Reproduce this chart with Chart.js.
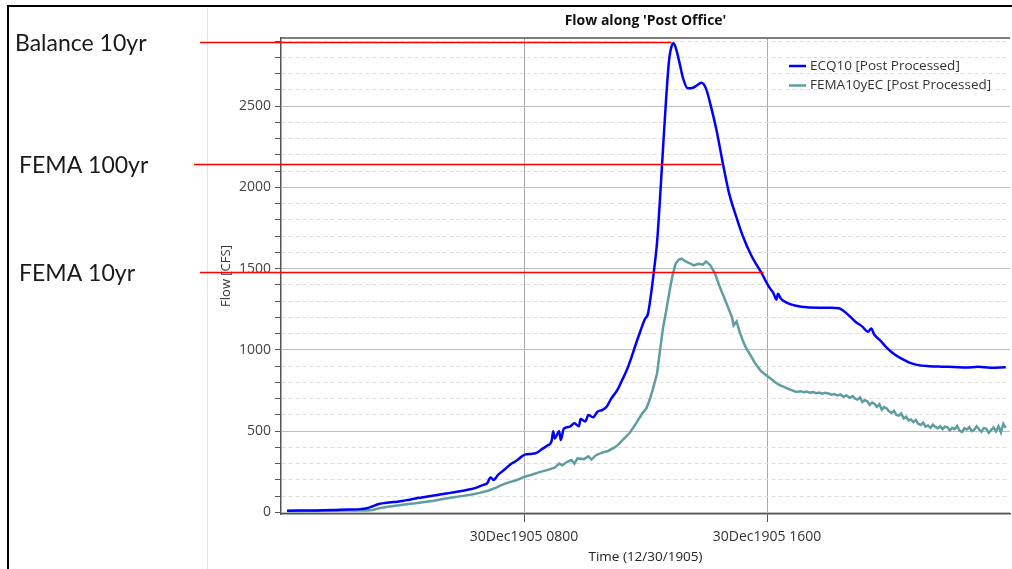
<!DOCTYPE html>
<html lang="en">
<head>
<meta charset="UTF-8">
<title>Flow along 'Post Office'</title>
<script src="https://cdn.jsdelivr.net/npm/chart.js"></script>
<style>
  html, body { margin: 0; padding: 0; background: #fff; }
  #wrap { position: relative; width: 1012px; height: 569px; }
</style>
</head>
<body>
<div id="wrap"><canvas id="flowChart" width="1012" height="569"></canvas></div>
<script>
// hours after 30Dec1905 0000
const ecqHours = [0.2, 0.6, 1.01, 1.41, 1.81, 2.21, 2.62, 2.82, 3.02, 3.22, 3.42, 3.62, 3.83, 4.03, 4.23, 4.43, 4.63, 4.83, 5.03, 5.23,
  5.44, 5.64, 5.84, 6.04, 6.24, 6.44, 6.64, 6.79, 6.9, 7.0, 7.15, 7.35, 7.55, 7.75, 7.9, 8.05, 8.25, 8.41, 8.56, 8.76,
  8.91, 8.96, 9.01, 9.16, 9.21, 9.31, 9.51, 9.66, 9.81, 9.86, 10.02, 10.12, 10.27, 10.42, 10.57, 10.72, 10.87, 11.07, 11.22, 11.37,
  11.53, 11.68, 11.83, 11.98, 12.08, 12.18, 12.28, 12.38, 12.48, 12.58, 12.68, 12.78, 12.88, 12.93, 13.04, 13.14, 13.24, 13.39, 13.54, 13.69,
  13.84, 13.99, 14.14, 14.34, 14.55, 14.75, 15.0, 15.2, 15.5, 15.8, 16.06, 16.21, 16.31, 16.36, 16.46, 16.66, 16.96, 17.31, 17.72, 18.12,
  18.37, 18.62, 18.92, 19.13, 19.33, 19.43, 19.53, 19.73, 19.93, 20.18, 20.43, 20.69, 20.94, 21.34, 21.74, 22.15, 22.55, 22.95, 23.35, 23.86];
const ecqFlow = [10, 11, 12, 13, 15, 17, 20, 25, 38, 52, 58, 62, 66, 72, 78, 86, 92, 98, 104, 110,
  116, 122, 128, 135, 142, 152, 168, 180, 215, 200, 232, 262, 295, 318, 340, 357, 360, 366, 385, 410,
  440, 500, 455, 500, 445, 515, 528, 548, 530, 575, 560, 600, 585, 620, 630, 650, 700, 752, 810, 870,
  950, 1035, 1115, 1190, 1222, 1340, 1490, 1660, 1940, 2250, 2550, 2790, 2880, 2888, 2830, 2750, 2670, 2610, 2612, 2628,
  2645, 2610, 2510, 2350, 2145, 1965, 1813, 1703, 1575, 1480, 1390, 1350, 1310, 1345, 1315, 1290, 1272, 1262, 1260, 1260,
  1256, 1225, 1172, 1145, 1112, 1132, 1095, 1058, 1016, 975, 946, 922, 908, 900, 897, 895, 892, 896, 891, 893];

const femaHours = [0.2, 0.81, 1.51, 2.21, 2.82, 3.02, 3.22, 3.52, 3.83, 4.13, 4.43, 4.73, 5.03, 5.33, 5.64, 5.94, 6.24, 6.54, 6.84, 7.05,
  7.25, 7.5, 7.75, 8.0, 8.25, 8.51, 8.76, 9.01, 9.16, 9.26, 9.41, 9.56, 9.66, 9.76, 9.97, 10.12, 10.22, 10.37, 10.57, 10.77,
  10.97, 11.12, 11.27, 11.48, 11.68, 11.88, 12.03, 12.13, 12.23, 12.38, 12.48, 12.58, 12.68, 12.78, 12.88, 12.99, 13.09, 13.19, 13.29, 13.44,
  13.59, 13.74, 13.89, 13.99, 14.14, 14.29, 14.44, 14.54, 14.7, 14.85, 14.9, 15.0, 15.1, 15.2, 15.3, 15.45, 15.6, 15.8,
  16.06, 16.2, 16.31, 16.45, 16.56, 16.7, 16.81, 16.92, 17.01, 17.11, 17.21, 17.31, 17.41, 17.52, 17.62, 17.72, 17.82, 17.92, 18.02, 18.12, 18.22, 18.32, 18.42,
  18.52, 18.62, 18.72, 18.82, 18.9, 18.98, 19.06, 19.14, 19.22, 19.3,
  19.38, 19.46, 19.54, 19.62, 19.7, 19.78, 19.86, 19.94, 20.02, 20.1,
  20.18, 20.26, 20.34, 20.42, 20.5, 20.58, 20.66, 20.74, 20.82, 20.9,
  20.98, 21.06, 21.14, 21.22, 21.3, 21.38, 21.46, 21.54, 21.62, 21.7,
  21.78, 21.86, 21.94, 22.02, 22.1, 22.18, 22.26, 22.34, 22.42, 22.5,
  22.58, 22.66, 22.74, 22.82, 22.9, 22.98, 23.06, 23.14, 23.22, 23.3,
  23.38, 23.46, 23.54, 23.62, 23.7, 23.78, 23.86];
const femaFlow = [8, 9, 10, 11, 12, 15, 25, 35, 42, 50, 56, 64, 72, 82, 92, 100, 108, 120, 135, 150,
  168, 185, 198, 218, 232, 248, 260, 275, 300, 290, 310, 322, 300, 332, 328, 345, 325, 352, 368, 378,
  398, 420, 450, 490, 545, 605, 640, 690, 750, 855, 1000, 1140, 1240, 1350, 1450, 1530, 1555, 1562, 1548, 1535,
  1520, 1530, 1525, 1545, 1520, 1470, 1390, 1345, 1270, 1200, 1150, 1175, 1110, 1060, 1015, 970, 920, 870,
  832, 812, 795, 780, 772, 760, 752, 744, 742, 746, 740, 744, 736, 740, 734, 737, 730, 736, 732, 724, 728, 720, 726,
  712, 720, 705, 716, 700, 694, 708, 680, 690, 684,
  662, 676, 668, 650, 666, 632, 648, 640, 622, 612,
  625, 600, 596, 610, 578, 588, 566, 572, 556, 568,
  545, 538, 552, 528, 535, 520, 540, 526, 518, 530,
  512, 528, 524, 505, 520, 512, 532, 502, 495, 518,
  510, 525, 500, 508, 530, 512, 496, 520, 515, 490,
  508, 522, 498, 530, 492, 545, 520];

const seriesNames = ['ECQ10 [Post Processed]', 'FEMA10yEC [Post Processed]'];
const xTickHours = [8, 16];
const xTickLabels = ['30Dec1905 0800', '30Dec1905 1600'];
const yLabelValues = [0, 500, 1000, 1500, 2000, 2500];
const yMinorValues = [];
for (let v = 0; v <= 2900; v += 100) yMinorValues.push(v);

// reference levels drawn in red
const refNames = ['Balance 10yr', 'FEMA 100yr', 'FEMA 10yr'];
const refFlows = [2895, 2144, 1479];
const refEndHours = [12.86, 14.51, 15.89];

const toPoints = (xs, ys) => xs.map((h, i) => ({ x: h, y: ys[i] }));

const decorPlugin = {
  id: 'decor',
  beforeDraw(chart) {
    const ctx = chart.ctx;
    ctx.save();
    ctx.fillStyle = '#fff';
    ctx.fillRect(0, 0, chart.width, chart.height);
    // panel separator
    ctx.strokeStyle = '#e4e4e4';
    ctx.lineWidth = 1;
    ctx.beginPath();
    ctx.moveTo(207.5, 8);
    ctx.lineTo(207.5, chart.height);
    ctx.stroke();
    ctx.restore();
  },
  afterDraw(chart) {
    const { ctx, chartArea: area, scales } = chart;
    ctx.save();

    // top edge of the plot box
    ctx.strokeStyle = '#555';
    ctx.lineWidth = 1.5;
    ctx.beginPath();
    ctx.moveTo(area.left, area.top);
    ctx.lineTo(area.right, area.top);
    ctx.stroke();

    // title
    ctx.fillStyle = '#111';
    ctx.font = 'bold 14px "Open Sans", sans-serif';
    ctx.textAlign = 'center';
    ctx.textBaseline = 'middle';
    ctx.fillText("Flow along 'Post Office'", (area.left + area.right) / 2, 21);

    // legend inside the plot
    ctx.textAlign = 'left';
    ctx.font = '13.5px "Open Sans", sans-serif';
    chart.data.datasets.forEach((ds, i) => {
      const y = 66 + i * 19.5;
      ctx.strokeStyle = ds.borderColor;
      ctx.lineWidth = 2.5;
      ctx.beginPath();
      ctx.moveTo(789, y);
      ctx.lineTo(806, y);
      ctx.stroke();
      ctx.fillStyle = '#333';
      ctx.fillText(ds.label, 810, y);
    });

    // reference lines and their names
    const starts = [200, 194, 200];
    const textX = [15, 19, 19];
    ctx.font = '23px Lato, "Open Sans", sans-serif';
    refFlows.forEach((f, i) => {
      const y = Math.round(scales.y.getPixelForValue(f)) + 0.5;
      const xEnd = scales.x.getPixelForValue(refEndHours[i]);
      ctx.strokeStyle = '#f00';
      ctx.lineWidth = 1.5;
      ctx.beginPath();
      ctx.moveTo(starts[i], y);
      ctx.lineTo(xEnd, y);
      ctx.stroke();
      ctx.fillStyle = '#1a1a1a';
      ctx.textBaseline = 'middle';
      ctx.fillText(refNames[i], textX[i], y + 1);
    });

    // screenshot frame
    ctx.strokeStyle = '#000';
    ctx.lineWidth = 2;
    ctx.beginPath();
    ctx.moveTo(8, chart.height);
    ctx.lineTo(8, 6);
    ctx.lineTo(chart.width, 6);
    ctx.stroke();
    ctx.restore();
  }
};

new Chart(document.getElementById('flowChart'), {
  type: 'line',
  data: {
    datasets: [
      {
        label: seriesNames[0],
        data: toPoints(ecqHours, ecqFlow),
        borderColor: '#0000ff',
        borderWidth: 2.5,
        pointRadius: 0,
        cubicInterpolationMode: 'monotone'
      },
      {
        label: seriesNames[1],
        data: toPoints(femaHours, femaFlow),
        borderColor: '#5f9ea0',
        borderWidth: 2.5,
        pointRadius: 0,
        tension: 0
      }
    ]
  },
  options: {
    responsive: false,
    animation: false,
    devicePixelRatio: 1,
    layout: { padding: { left: 207, right: 2, top: 38, bottom: 0 } },
    plugins: {
      legend: { display: false },
      title: { display: false },
      tooltip: { enabled: false }
    },
    scales: {
      x: {
        type: 'linear',
        min: 0,
        max: 24,
        afterBuildTicks: s => { s.ticks = xTickHours.map(v => ({ value: v })); },
        afterFit: s => { s.height = 55; },
        ticks: {
          autoSkip: false,
          maxRotation: 0,
          padding: 7,
          color: '#333',
          font: { family: '"Open Sans", sans-serif', size: 14 },
          callback: v => xTickLabels[xTickHours.indexOf(v)]
        },
        grid: { color: '#a8a8a8', lineWidth: 1, tickLength: 8, tickColor: '#555' },
        border: { color: '#555', width: 1.5 },
        title: {
          display: true,
          text: 'Time (12/30/1905)',
          color: '#222',
          font: { family: '"Open Sans", sans-serif', size: 13.5 },
          padding: { top: 0, bottom: 4 }
        }
      },
      y: {
        min: -10,
        max: 2920,
        afterBuildTicks: s => { s.ticks = yMinorValues.map(v => ({ value: v })); },
        afterFit: s => { s.width = 74; },
        ticks: {
          autoSkip: false,
          padding: 4,
          color: '#444',
          font: { family: '"Open Sans", sans-serif', size: 14 },
          callback: v => (yLabelValues.includes(v) ? v : '')
        },
        grid: {
          color: c => (c.tick && yLabelValues.includes(c.tick.value) ? '#bdbdbd' : '#dcdcdc'),
          lineWidth: 1,
          tickLength: 6,
          tickColor: '#555'
        },
        border: {
          color: '#555',
          width: 1.5,
          dash: c => (c.tick && !yLabelValues.includes(c.tick.value) ? [4, 3] : [])
        },
        title: {
          display: true,
          text: 'Flow [CFS]',
          color: '#333',
          font: { family: '"Open Sans", sans-serif', size: 13 },
          padding: { top: 11, bottom: 0 }
        }
      }
    }
  },
  plugins: [decorPlugin]
});
</script>
</body>
</html>
